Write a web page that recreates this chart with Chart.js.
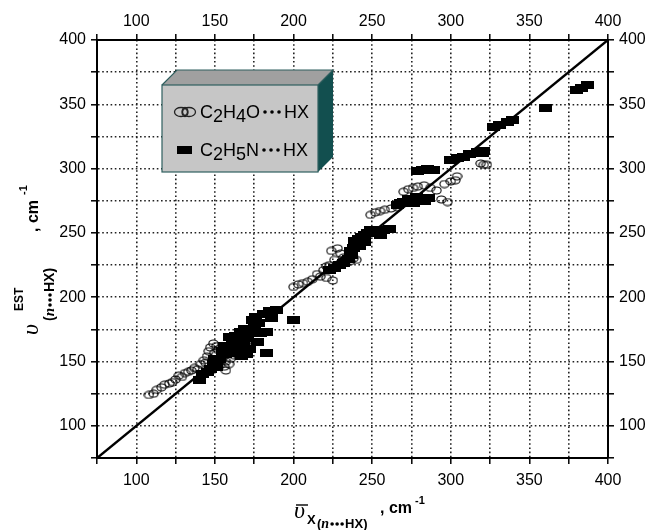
<!DOCTYPE html>
<html>
<head>
<meta charset="utf-8">
<script src="https://cdn.jsdelivr.net/npm/chart.js@4.4.1/dist/chart.umd.min.js"></script>
<style>
  html, body { margin: 0; padding: 0; background: #fff; }
  canvas { display: block; }
</style>
</head>
<body>
<canvas id="chart" width="651" height="530"></canvas>
<script>
// Axis range and tick labels (same on all four sides)
const axisMin = 75;
const axisMax = 400;
const tickStep = 25;
const labelStep = 50;
const diagonal = [75, 400];

// C2H4O...HX (open ovals)
const c2h4oX = [108, 111, 113, 116, 118, 121, 123, 125, 127, 129, 131, 133, 135, 137, 139, 141, 143, 145, 146, 147,
  149, 151, 152, 154, 155, 157, 157, 159, 160, 162, 164, 166, 168, 170, 144, 150, 153, 156,
  200, 203, 206, 209, 212, 215, 217, 219, 221, 221, 223, 224, 225, 226, 228, 230, 232, 234, 236, 238, 240,
  249, 252, 255, 258, 262, 266, 270, 273, 276, 279, 283, 287, 291, 294, 298, 296, 300, 303, 304, 319, 321, 323];
const c2h4oY = [124, 125, 128, 130, 132, 133, 134, 136, 139, 138, 141, 142, 143, 145, 144, 148, 151, 154, 158, 161,
  164, 162, 159, 156, 153, 150, 143, 148, 152, 155, 157, 159, 161, 163, 149, 157, 147, 146,
  208, 210, 211, 212, 214, 218, 216, 221, 224, 215, 225, 236, 213, 229, 238, 234, 231, 229, 228, 230, 229,
  264, 266, 267, 268, 269, 270, 282, 284, 285, 286, 287, 285, 283, 276, 274, 288, 290, 291, 294, 304, 303, 303];

// C2H5N...HX (filled bars)
const c2h5nX = [140, 142, 145, 147, 149, 151, 153, 155, 157, 159, 160, 162, 164, 166, 168, 170, 159, 163, 166, 169,
  172, 174, 176, 179, 181, 183, 185, 189, 183, 200, 150, 156, 161, 165, 171, 175, 178, 186, 167, 172, 177,
  223, 226, 229, 232, 235, 237, 239, 241, 243, 245, 247, 249, 251, 254, 257, 261, 236, 238, 242, 245, 255,
  266, 268, 270, 273, 276, 278, 281, 283, 286, 279, 282, 285, 289, 300, 304, 308, 312, 317, 321, 320,
  327, 331, 336, 339, 360, 380, 383, 387];
const c2h5nY = [136, 140, 142, 144, 148, 146, 152, 158, 156, 161, 159, 158, 157, 161, 164, 156, 169, 170, 173, 175,
  172, 182, 185, 172, 187, 173, 189, 190, 157, 182, 152, 162, 165, 168, 168, 176, 180, 184, 154, 160, 165,
  221, 223, 225, 227, 230, 233, 244, 245, 247, 248, 250, 252, 251, 251, 252, 253, 236, 238, 240, 243, 248,
  272, 273, 274, 276, 273, 278, 277, 275, 277, 298, 299, 300, 299, 307, 308, 309, 311, 313, 314, 312,
  332, 334, 336, 338, 347, 361, 363, 365];

const sans = "'Liberation Sans', Arial, sans-serif";
const serif = "'Liberation Serif', 'Times New Roman', serif";

function toPoints(xs, ys) {
  return xs.map((x, i) => ({ x: x, y: ys[i] }));
}

// marker images
function ovalMarker() {
  const c = document.createElement('canvas');
  c.width = 11; c.height = 9;
  const g = c.getContext('2d');
  g.strokeStyle = '#000';
  g.lineWidth = 1.1;
  g.beginPath();
  g.ellipse(5.5, 4.5, 4.6, 3.5, 0, 0, Math.PI * 2);
  g.stroke();
  return c;
}

function barMarker() {
  const c = document.createElement('canvas');
  c.width = 13; c.height = 8;
  const g = c.getContext('2d');
  g.fillStyle = '#000';
  g.fillRect(0, 0, 13, 8);
  return c;
}

function axisOptions(position, size, onChart) {
  const horizontal = position === 'top' || position === 'bottom';
  return {
    type: 'linear',
    position: position,
    min: axisMin,
    max: axisMax,
    ticks: {
      stepSize: tickStep,
      autoSkip: false,
      maxRotation: 0,
      color: '#000',
      padding: position === 'bottom' ? 7 : (horizontal ? 3 : 5),
      font: { family: sans, size: 16 },
      callback: v => (v % labelStep === 0 ? v : '')
    },
    grid: {
      drawOnChartArea: onChart,
      color: '#222',
      lineWidth: 1.6,
      tickLength: 6,
      tickColor: '#000',
      tickWidth: 1.5,
      tickBorderDash: []
    },
    border: { display: true, color: '#000', width: 2, dash: [1.6, 2.6] },
    afterFit: scale => {
      if (horizontal) scale.height = size;
      else scale.width = size;
    }
  };
}

// draws a run of text pieces one after another along the baseline
function drawRuns(ctx, x, y, runs) {
  let cx = x;
  runs.forEach(r => {
    if (r.dots) {
      for (let i = 0; i < 3; i++) {
        ctx.beginPath();
        ctx.arc(cx + 2 + i * r.dots, y + r.dy, 1.8, 0, Math.PI * 2);
        ctx.fill();
      }
      cx += 2 * r.dots + 4 + (r.gap || 0);
      return;
    }
    ctx.font = r.font;
    ctx.fillText(r.t, cx, y + (r.dy || 0));
    cx += ctx.measureText(r.t).width + (r.gap || 0);
  });
  return cx;
}

const titlesPlugin = {
  id: 'titles',
  afterDraw(chart) {
    const ctx = chart.ctx;
    ctx.save();
    ctx.fillStyle = '#000';
    ctx.strokeStyle = '#000';
    ctx.textAlign = 'left';
    ctx.textBaseline = 'alphabetic';

    // y title, rotated
    ctx.save();
    ctx.translate(38, 332);
    ctx.rotate(-Math.PI / 2);
    ctx.font = 'italic 24px ' + serif;
    ctx.fillText('\u03c5', -3, 0);
    ctx.font = 'bold 12px ' + sans;
    ctx.fillText('EST', 21, -15);
    drawRuns(ctx, 11, 16, [
      { t: '(', font: 'bold 14px ' + sans },
      { t: 'n', font: 'italic bold 15px ' + serif, gap: 1 },
      { dots: 5, dy: -4, gap: 1 },
      { t: 'HX)', font: 'bold 14px ' + sans }
    ]);
    ctx.font = 'bold 16px ' + sans;
    ctx.fillText(', cm', 100, 0);
    ctx.font = 'bold 11px ' + sans;
    ctx.fillText('-1', 137, -11);
    ctx.restore();

    // x title
    ctx.font = 'italic 24px ' + serif;
    ctx.fillText('\u03c5', 294, 518);
    ctx.lineWidth = 1.4;
    ctx.beginPath();
    ctx.moveTo(296, 505);
    ctx.lineTo(308, 505);
    ctx.stroke();
    ctx.font = 'bold 13px ' + sans;
    ctx.fillText('X', 307, 524);
    drawRuns(ctx, 317, 528, [
      { t: '(', font: 'bold 13px ' + sans },
      { t: 'n', font: 'italic bold 14px ' + serif, gap: 1 },
      { dots: 5, dy: -4, gap: 1 },
      { t: 'HX)', font: 'bold 13px ' + sans }
    ]);
    ctx.font = 'bold 16px ' + sans;
    ctx.fillText(', cm', 380, 513);
    ctx.font = 'bold 11px ' + sans;
    ctx.fillText('-1', 415, 504);
    ctx.restore();
  }
};

const legendPlugin = {
  id: 'boxLegend',
  afterDraw(chart) {
    const ctx = chart.ctx;
    const L = 162, R = 318, T = 85, B = 172, d = 15;
    ctx.save();
    // front face
    ctx.fillStyle = '#c6c6c6';
    ctx.fillRect(L, T, R - L, B - T);
    // top face
    ctx.fillStyle = '#a0a0a0';
    ctx.beginPath();
    ctx.moveTo(L, T);
    ctx.lineTo(L + d, T - d);
    ctx.lineTo(R + d, T - d);
    ctx.lineTo(R, T);
    ctx.closePath();
    ctx.fill();
    // side face
    ctx.fillStyle = '#124f4f';
    ctx.beginPath();
    ctx.moveTo(R, T);
    ctx.lineTo(R + d, T - d);
    ctx.lineTo(R + d, B - d);
    ctx.lineTo(R, B);
    ctx.closePath();
    ctx.fill();
    ctx.strokeStyle = '#2f5f5f';
    ctx.lineWidth = 1.2;
    ctx.strokeRect(L, T, R - L, B - T);
    ctx.beginPath();
    ctx.moveTo(L, T); ctx.lineTo(L + d, T - d); ctx.lineTo(R + d, T - d); ctx.lineTo(R, T);
    ctx.stroke();

    // symbols
    ctx.strokeStyle = '#222';
    ctx.lineWidth = 1.3;
    [181, 189].forEach(cx => {
      ctx.beginPath();
      ctx.ellipse(cx, 112, 6.5, 4.5, 0, 0, Math.PI * 2);
      ctx.stroke();
    });
    ctx.beginPath();
    ctx.ellipse(185, 112, 3, 4.5, 0, 0, Math.PI * 2);
    ctx.stroke();
    ctx.fillStyle = '#000';
    ctx.fillRect(177, 146, 15, 8);

    // labels
    ctx.textAlign = 'left';
    ctx.textBaseline = 'alphabetic';
    const big = '18px ' + sans;
    drawRuns(ctx, 200, 118, [
      { t: 'C', font: big }, { t: '2', font: big, dy: 4 }, { t: 'H', font: big },
      { t: '4', font: big, dy: 4 }, { t: 'O', font: big, gap: 3 },
      { dots: 7, dy: -6, gap: 3 }, { t: 'HX', font: big }
    ]);
    drawRuns(ctx, 200, 156, [
      { t: 'C', font: big }, { t: '2', font: big, dy: 4 }, { t: 'H', font: big },
      { t: '5', font: big, dy: 4 }, { t: 'N', font: big, gap: 3 },
      { dots: 7, dy: -6, gap: 3 }, { t: 'HX', font: big }
    ]);
    ctx.restore();
  }
};

new Chart(document.getElementById('chart'), {
  type: 'scatter',
  data: {
    datasets: [
      {
        label: 'C2H4O\u00b7\u00b7\u00b7HX',
        data: toPoints(c2h4oX, c2h4oY),
        pointStyle: ovalMarker(),
        pointRadius: 4
      },
      {
        label: 'C2H5N\u00b7\u00b7\u00b7HX',
        data: toPoints(c2h5nX, c2h5nY),
        pointStyle: barMarker(),
        pointRadius: 5
      },
      {
        label: 'y = x',
        data: toPoints(diagonal, diagonal),
        showLine: true,
        borderColor: '#000',
        borderWidth: 2.5,
        pointRadius: 0
      }
    ]
  },
  options: {
    responsive: false,
    animation: false,
    layout: { padding: 0 },
    plugins: {
      legend: { display: false },
      tooltip: { enabled: false }
    },
    scales: {
      x: axisOptions('bottom', 72, true),
      x2: axisOptions('top', 40, false),
      y: axisOptions('left', 97, true),
      y2: axisOptions('right', 43, false)
    }
  },
  plugins: [titlesPlugin, legendPlugin]
});
</script>
</body>
</html>
